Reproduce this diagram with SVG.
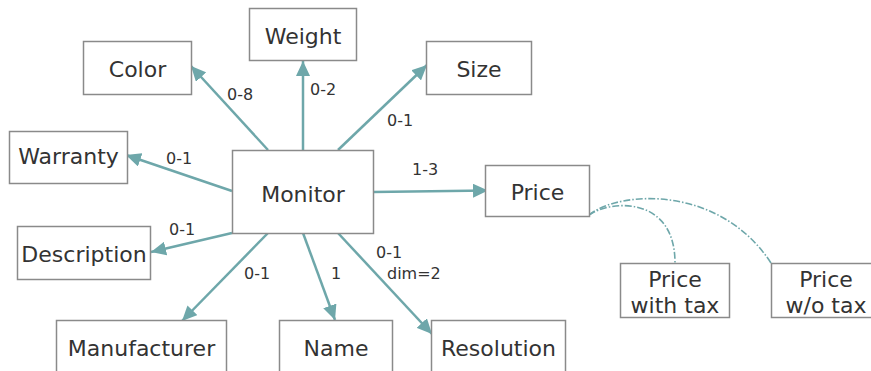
<svg xmlns="http://www.w3.org/2000/svg" width="871" height="371" viewBox="0 0 871 371">
<defs>
<marker id="ah" markerUnits="userSpaceOnUse" markerWidth="16" markerHeight="14" refX="15" refY="7" orient="auto">
<path d="M0,0 L15,7 L0,14 Z" fill="#6ea7aa"/>
</marker>
<style>
.box{fill:#fff;stroke:#8a8a8a;stroke-width:1.5}
.nt{font-family:"DejaVu Sans",Verdana,sans-serif;font-size:22px;fill:#333;text-anchor:middle}
.lb{font-family:"DejaVu Sans",Verdana,sans-serif;font-size:16px;fill:#333}
.e{stroke:#6ea7aa;stroke-width:2.5;fill:none;marker-end:url(#ah)}
.d{stroke:#6ea7aa;stroke-width:1.6;fill:none;stroke-dasharray:7 2 1.5 2}
</style>
</defs>
<rect width="871" height="371" fill="#fff"/>
<g id="connectors">
<line class="e" x1="268" y1="150" x2="191" y2="66"/>
<line class="e" x1="303" y1="150" x2="303" y2="61"/>
<line class="e" x1="338" y1="150" x2="427" y2="65"/>
<line class="e" x1="232" y1="191" x2="126" y2="155"/>
<line class="e" x1="232" y1="233" x2="151" y2="252"/>
<line class="e" x1="268" y1="233" x2="182" y2="321"/>
<line class="e" x1="303" y1="233" x2="335" y2="320"/>
<line class="e" x1="338" y1="233" x2="432" y2="334"/>
<line class="e" x1="373" y1="192" x2="488" y2="190.5"/>
<path class="d" d="M589,215 C610,200 675,195 675,263"/>
<path class="d" d="M589,215 C620,190 720,185 771,263"/>
<text class="lb" x="227" y="100">0-8</text>
<text class="lb" x="310" y="95">0-2</text>
<text class="lb" x="387" y="126">0-1</text>
<text class="lb" x="166" y="164">0-1</text>
<text class="lb" x="412" y="175">1-3</text>
<text class="lb" x="169" y="235">0-1</text>
<text class="lb" x="244" y="279">0-1</text>
<text class="lb" x="331" y="279">1</text>
<text class="lb" x="376" y="258">0-1</text>
<text class="lb" x="387" y="279">dim=2</text>
</g>
<g id="color"><rect class="box" x="83.5" y="41.5" width="108" height="53"/><text class="nt" x="137.5" y="77">Color</text></g>
<g id="weight"><rect class="box" x="249.5" y="8.5" width="107" height="52"/><text class="nt" x="303" y="44">Weight</text></g>
<g id="size"><rect class="box" x="426.5" y="41.5" width="105" height="53"/><text class="nt" x="479" y="77">Size</text></g>
<g id="warranty"><rect class="box" x="9.5" y="131.5" width="118" height="52"/><text class="nt" x="68.5" y="164">Warranty</text></g>
<g id="monitor"><rect class="box" x="232.5" y="150.5" width="141" height="83"/><text class="nt" x="303" y="202">Monitor</text></g>
<g id="description"><rect class="box" x="17.5" y="226.5" width="133" height="53"/><text class="nt" x="84" y="262">Description</text></g>
<g id="manufacturer"><rect class="box" x="56.5" y="320.5" width="170" height="60"/><text class="nt" x="141.5" y="356">Manufacturer</text></g>
<g id="name"><rect class="box" x="279.5" y="320.5" width="113" height="60"/><text class="nt" x="336" y="356">Name</text></g>
<g id="resolution"><rect class="box" x="431.5" y="320.5" width="134" height="60"/><text class="nt" x="498.5" y="356">Resolution</text></g>
<g id="price"><rect class="box" x="485.5" y="165.5" width="104" height="51"/><text class="nt" x="537.5" y="200">Price</text></g>
<g id="price-with-tax"><rect class="box" x="620.5" y="263.5" width="109" height="54"/><text class="nt" x="675" y="287">Price</text><text class="nt" x="675" y="313">with tax</text></g>
<g id="price-wo-tax"><rect class="box" x="771.5" y="263.5" width="110" height="54"/><text class="nt" x="826" y="287">Price</text><text class="nt" x="826" y="313">w/o tax</text></g>
</svg>
